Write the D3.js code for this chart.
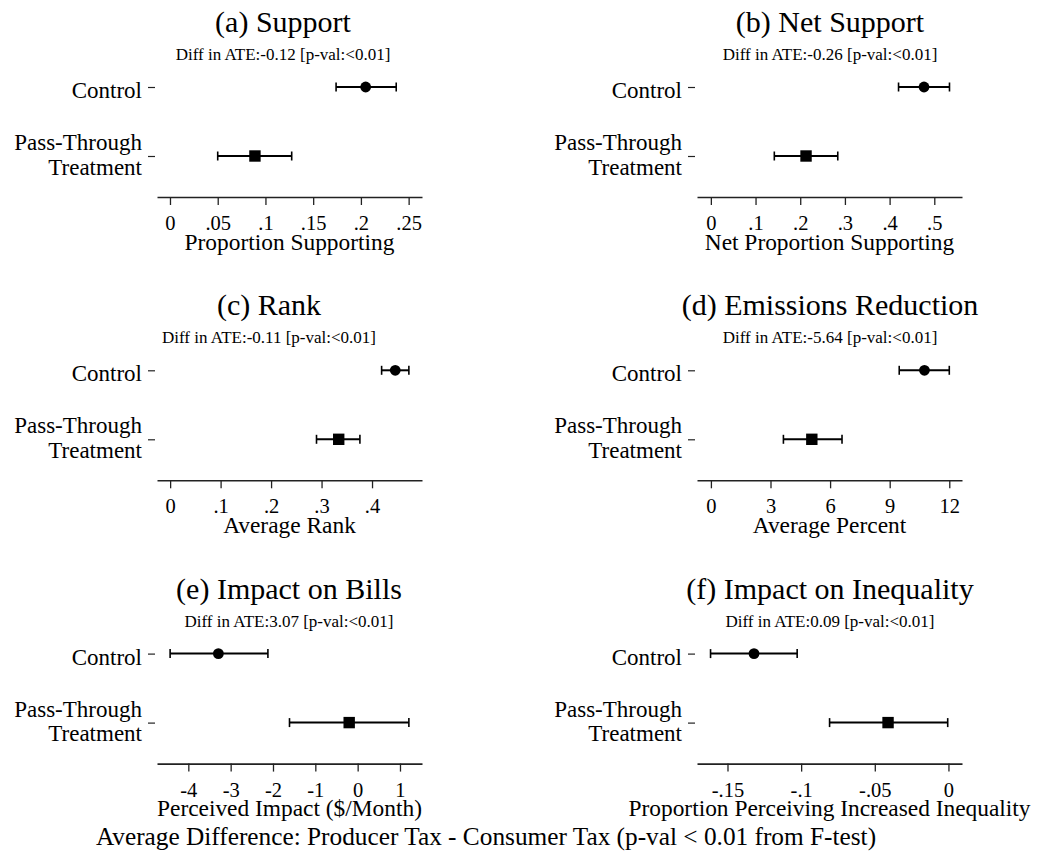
<!DOCTYPE html>
<html>
<head>
<meta charset="utf-8">
<script src="https://cdn.jsdelivr.net/npm/d3@7"></script>
<style>
  body { margin: 0; background: #fff; }
  svg text { font-family: "Liberation Serif", "Times New Roman", Times, "DejaVu Serif", serif; fill: #000; }
</style>
</head>
<body>
<div id="chart"></div>
<script>
const groups = ['Control', 'Pass-Through Treatment']

const titles = [
  '(a) Support', '(b) Net Support', '(c) Rank',
  '(d) Emissions Reduction', '(e) Impact on Bills', '(f) Impact on Inequality',
]
const subtitles = [
  'Diff in ATE:-0.12 [p-val:<0.01]', 'Diff in ATE:-0.26 [p-val:<0.01]',
  'Diff in ATE:-0.11 [p-val:<0.01]', 'Diff in ATE:-5.64 [p-val:<0.01]',
  'Diff in ATE:3.07 [p-val:<0.01]', 'Diff in ATE:0.09 [p-val:<0.01]',
]
const axisTitles = [
  'Proportion Supporting', 'Net Proportion Supporting', 'Average Rank',
  'Average Percent', 'Perceived Impact ($/Month)', 'Proportion Perceiving Increased Inequality',
]

// x extents of each panel
const domains = [
  [-0.0136, 0.264], [-0.031, 0.562], [-0.026, 0.499],
  [-0.7, 12.64], [-4.74, 1.52], [-0.1707, 0.0092],
]
const tickValues = [
  [0, 0.05, 0.1, 0.15, 0.2, 0.25], [0, 0.1, 0.2, 0.3, 0.4, 0.5], [0, 0.1, 0.2, 0.3, 0.4],
  [0, 3, 6, 9, 12], [-4, -3, -2, -1, 0, 1], [-0.15, -0.1, -0.05, 0],
]
const tickLabels = [
  ['0', '.05', '.1', '.15', '.2', '.25'], ['0', '.1', '.2', '.3', '.4', '.5'],
  ['0', '.1', '.2', '.3', '.4'], ['0', '3', '6', '9', '12'],
  ['-4', '-3', '-2', '-1', '0', '1'], ['-.15', '-.1', '-.05', '0'],
]

// point estimates and confidence intervals (control, treatment)
const controlEst = [0.205, 0.477, 0.446, 10.75, -3.29, -0.132]
const controlLo = [0.174, 0.42, 0.419, 9.48, -4.43, -0.1615]
const controlHi = [0.237, 0.534, 0.473, 12.0, -2.12, -0.1027]
const treatEst = [0.089, 0.213, 0.334, 5.08, -0.2, -0.041]
const treatLo = [0.05, 0.142, 0.29, 3.65, -1.61, -0.0807]
const treatHi = [0.1275, 0.284, 0.376, 6.6, 1.21, -0.0005]

const footer = 'Average Difference: Producer Tax - Consumer Tax (p-val < 0.01 from F-test)'

// layout
const W = 1037, H = 860
const colOffset = [0, 540], rowOffset = [0, 283.3, 566.6]
const titleX = [283, 830, 269, 830, 289, 830]
const plotLeft = 157, plotRight = 422, axisY = 197, yAxisX = 155
const serif = '"Liberation Serif", "Times New Roman", Times, "DejaVu Serif", serif'

const svg = d3
  .select('#chart')
  .append('svg')
  .attr('width', W)
  .attr('height', H)
  .attr('font-family', serif)

titles.forEach((title, i) => {
  const ox = colOffset[i % 2], oy = rowOffset[Math.floor(i / 2)]
  const g = svg.append('g').attr('transform', `translate(${ox},${oy})`)

  const x = d3.scaleLinear().domain(domains[i]).range([plotLeft, plotRight])
  const y = d3.scalePoint().domain(groups).range([87, 156])

  // titles
  g.append('text')
    .attr('x', titleX[i] - ox)
    .attr('y', 32)
    .attr('text-anchor', 'middle')
    .style('font-size', '30px')
    .text(title)
  g.append('text')
    .attr('x', titleX[i] - ox)
    .attr('y', 60)
    .attr('text-anchor', 'middle')
    .style('font-size', '17px')
    .text(subtitles[i])

  // x axis
  const xAxis = g
    .append('g')
    .attr('transform', `translate(0,${axisY})`)
    .call(
      d3.axisBottom(x)
        .tickValues(tickValues[i])
        .tickFormat((d, k) => tickLabels[i][k])
        .tickSize(8)
        .tickSizeOuter(0)
    )
    .attr('font-family', serif)
  xAxis.select('.domain').attr('stroke', '#222').attr('stroke-width', 1.6)
  xAxis.selectAll('.tick line').attr('stroke', '#222').attr('stroke-width', 1.3)
  xAxis.selectAll('.tick text')
    .attr('y', 33)
    .attr('dy', 0)
    .style('font-size', '20.5px')

  g.append('text')
    .attr('x', (plotLeft + plotRight) / 2)
    .attr('y', axisY + 52.5)
    .attr('text-anchor', 'middle')
    .style('font-size', '23.4px')
    .text(axisTitles[i])

  // y axis (ticks and labels only)
  const yAxis = g
    .append('g')
    .attr('transform', `translate(${yAxisX},0)`)
    .call(d3.axisLeft(y).tickSize(7).tickPadding(6))
    .attr('font-family', serif)
  yAxis.select('.domain').remove()
  yAxis.selectAll('.tick line').attr('stroke', '#222').attr('stroke-width', 1.2)
  yAxis.selectAll('.tick text')
    .style('font-size', '23px')
    .attr('dy', 0)
    .each(function (d) {
      const t = d3.select(this).text('')
      if (d === 'Control') {
        t.append('tspan').attr('x', -13).attr('y', 10.6).text('Control')
      } else {
        t.append('tspan').attr('x', -13).attr('y', -6.4).text('Pass-Through')
        t.append('tspan').attr('x', -13).attr('y', 18.3).text('Treatment')
      }
    })

  // confidence intervals
  const rows = [
    { group: groups[0], est: controlEst[i], lo: controlLo[i], hi: controlHi[i] },
    { group: groups[1], est: treatEst[i], lo: treatLo[i], hi: treatHi[i] },
  ]
  const ci = g.selectAll('.ci').data(rows).join('g').attr('class', 'ci')
  ci.append('line')
    .attr('x1', (d) => x(d.lo))
    .attr('x2', (d) => x(d.hi))
    .attr('y1', (d) => y(d.group))
    .attr('y2', (d) => y(d.group))
    .attr('stroke', '#000')
    .attr('stroke-width', 2)
  ci.selectAll('.cap')
    .data((d) => [d.lo, d.hi].map((v) => ({ v, group: d.group })))
    .join('line')
    .attr('class', 'cap')
    .attr('x1', (d) => x(d.v))
    .attr('x2', (d) => x(d.v))
    .attr('y1', (d) => y(d.group) - 4.5)
    .attr('y2', (d) => y(d.group) + 4.5)
    .attr('stroke', '#000')
    .attr('stroke-width', 1.6)

  // markers: circle for control, square for treatment
  g.append('circle')
    .attr('cx', x(rows[0].est))
    .attr('cy', y(rows[0].group))
    .attr('r', 5.4)
    .attr('fill', '#000')
  g.append('rect')
    .attr('x', x(rows[1].est) - 5.7)
    .attr('y', y(rows[1].group) - 5.7)
    .attr('width', 11.4)
    .attr('height', 11.4)
    .attr('fill', '#000')
})

svg.append('text')
  .attr('x', 486)
  .attr('y', 845)
  .attr('text-anchor', 'middle')
  .style('font-size', '25.3px')
  .text(footer)
</script>
</body>
</html>
